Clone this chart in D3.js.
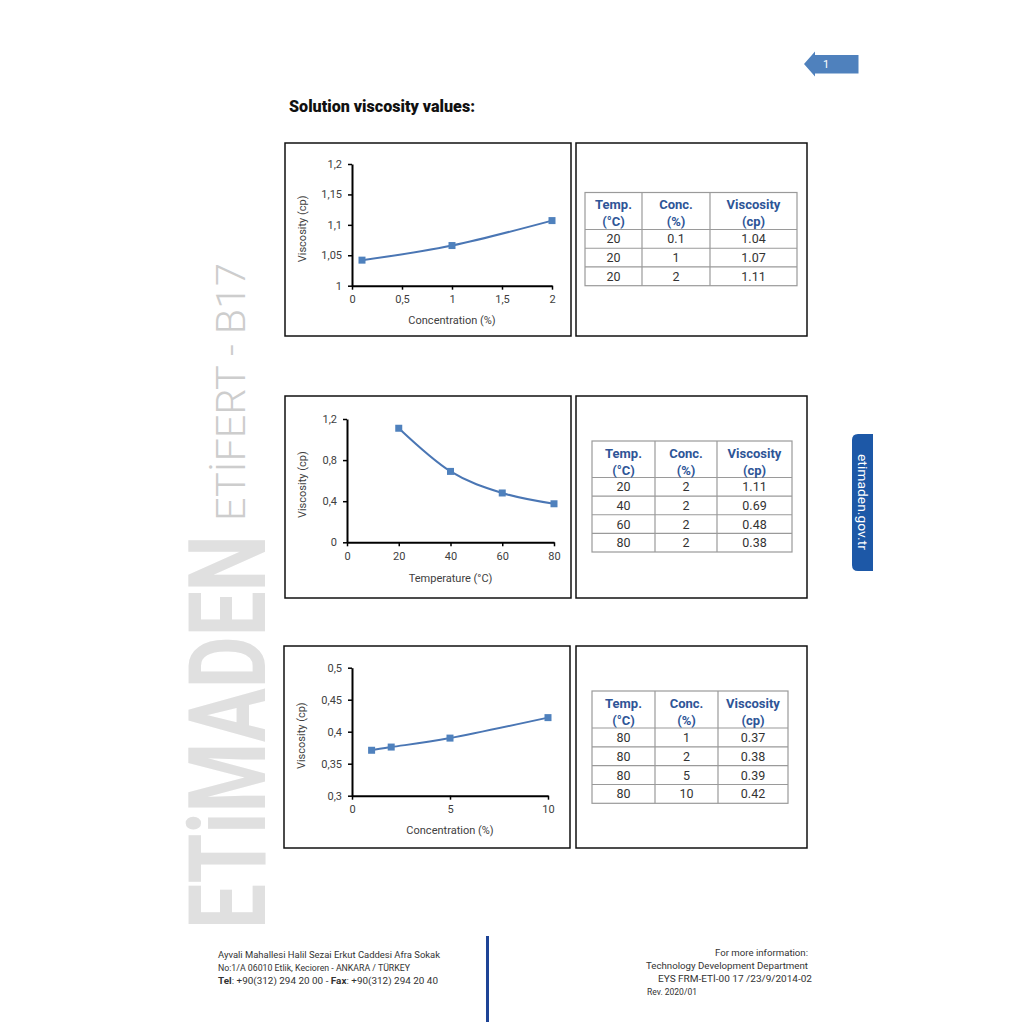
<!DOCTYPE html>
<html>
<head>
<meta charset="utf-8">
<script src="https://cdn.jsdelivr.net/npm/d3@7"></script>
<style>
  html, body { margin: 0; padding: 0; background: #fff; }
  svg { display: block; }
  text { font-family: Roboto, "Noto Sans", sans-serif; }
</style>
</head>
<body>
<svg id="page" width="1024" height="1024"></svg>
<script>
// ---------------- DATA ----------------
// Chart 1: viscosity vs concentration at 20 °C
const conc1 = [0.1, 1, 2];
const visc1 = [1.042, 1.066, 1.107];
const xTicks1 = [0, 0.5, 1, 1.5, 2];
const xLabels1 = ["0", "0,5", "1", "1,5", "2"];
const yTicks1 = [1, 1.05, 1.1, 1.15, 1.2];
const yLabels1 = ["1", "1,05", "1,1", "1,15", "1,2"];

// Chart 2: viscosity vs temperature at 2 %
const temp2 = [20, 40, 60, 80];
const visc2 = [1.11, 0.69, 0.48, 0.375];
const xTicks2 = [0, 20, 40, 60, 80];
const xLabels2 = ["0", "20", "40", "60", "80"];
const yTicks2 = [0, 0.4, 0.8, 1.2];
const yLabels2 = ["0", "0,4", "0,8", "1,2"];

// Chart 3: viscosity vs concentration at 80 °C
const conc3 = [1, 2, 5, 10];
const visc3 = [0.371, 0.376, 0.39, 0.422];
const xTicks3 = [0, 5, 10];
const xLabels3 = ["0", "5", "10"];
const yTicks3 = [0.3, 0.35, 0.4, 0.45, 0.5];
const yLabels3 = ["0,3", "0,35", "0,4", "0,45", "0,5"];

// Tables
const tableHeader = [["Temp.", "(°C)"], ["Conc.", "(%)"], ["Viscosity", "(cp)"]];
const table1Rows = [["20", "0.1", "1.04"], ["20", "1", "1.07"], ["20", "2", "1.11"]];
const table2Rows = [["20", "2", "1.11"], ["40", "2", "0.69"], ["60", "2", "0.48"], ["80", "2", "0.38"]];
const table3Rows = [["80", "1", "0.37"], ["80", "2", "0.38"], ["80", "5", "0.39"], ["80", "10", "0.42"]];

const yTitle = "Viscosity (cp)";
const xTitle1 = "Concentration (%)";
const xTitle2 = "Temperature (°C)";
const xTitle3 = "Concentration (%)";

// ---------------- DRAW ----------------
const svg = d3.select("#page");
const BLUE = "#4f81bd";

// Watermark
svg.append("text")
  .attr("transform", "translate(265,929) rotate(-90)")
  .attr("font-size", 108).attr("font-weight", 700)
  .attr("fill", "#e0e0e0")
  .attr("textLength", 394).attr("lengthAdjust", "spacingAndGlyphs")
  .text("ETiMADEN");
svg.append("text")
  .attr("transform", "translate(245,521) rotate(-90)")
  .attr("font-size", 40).attr("font-weight", 300)
  .attr("fill", "#cdcdcd")
  .attr("textLength", 258).attr("lengthAdjust", "spacingAndGlyphs")
  .text("ETİFERT - B17");

// Top page arrow
svg.append("polygon")
  .attr("points", "804,64 815,51.5 815,55 858.5,55 858.5,73.5 815,73.5 815,76.5")
  .attr("fill", BLUE);
svg.append("text")
  .attr("x", 826).attr("y", 68).attr("text-anchor", "middle")
  .attr("font-family", "'Liberation Serif', 'DejaVu Serif', serif")
  .attr("font-size", 11).attr("fill", "#fff").text("1");

// Title
svg.append("text")
  .attr("x", 289).attr("y", 112)
  .attr("font-size", 16).attr("font-weight", 900).attr("fill", "#111")
  .attr("textLength", 186).attr("lengthAdjust", "spacingAndGlyphs")
  .text("Solution viscosity values:");

// Panel boxes
const boxes = [
  [285, 143, 571, 336], [576, 143, 807, 336],
  [285, 396, 571, 598], [576, 396, 807, 598],
  [284, 646, 570, 848], [576, 646, 807, 848]
];
svg.selectAll("rect.box").data(boxes).enter().append("rect")
  .attr("class", "box")
  .attr("x", d => d[0]).attr("y", d => d[1])
  .attr("width", d => d[2] - d[0]).attr("height", d => d[3] - d[1])
  .attr("fill", "none").attr("stroke", "#111").attr("stroke-width", 1.5);

// Charts
function drawChart(cfg) {
  const x = d3.scaleLinear().domain(cfg.xDomain).range([cfg.x0, cfg.x1]);
  const y = d3.scaleLinear().domain(cfg.yDomain).range([cfg.yBot, cfg.yTop]);
  const g = svg.append("g");

  const xAxis = d3.axisBottom(x).tickValues(cfg.xTicks)
    .tickFormat((d, i) => cfg.xLabels[i]).tickSize(4).tickSizeOuter(0).tickPadding(6);
  const yAxis = d3.axisLeft(y).tickValues(cfg.yTicks)
    .tickFormat((d, i) => cfg.yLabels[i]).tickSize(4).tickSizeOuter(0).tickPadding(6);

  const gx = g.append("g").attr("transform", `translate(0,${cfg.yBot})`).call(xAxis);
  const gy = g.append("g").attr("transform", `translate(${cfg.x0},0)`).call(yAxis);
  [gx, gy].forEach(a => {
    a.select(".domain").attr("stroke", "#000").attr("stroke-width", 2);
    a.selectAll(".tick line").attr("stroke", "#000").attr("stroke-width", 1.5);
    a.selectAll(".tick text").attr("fill", "#404040").attr("font-size", 11)
      .attr("font-family", "Roboto, sans-serif");
  });

  const pts = cfg.xs.map((v, i) => [v, cfg.ys[i]]);
  const line = d3.line().x(d => x(d[0])).y(d => y(d[1])).curve(d3.curveCardinal.tension(0));
  g.append("path").attr("d", line(pts))
    .attr("fill", "none").attr("stroke", "#4a76b4").attr("stroke-width", 2);
  g.selectAll("rect.mk").data(pts).enter().append("rect")
    .attr("x", d => x(d[0]) - 3.5).attr("y", d => y(d[1]) - 3.5)
    .attr("width", 7).attr("height", 7).attr("fill", BLUE);

  g.append("text")
    .attr("transform", `translate(${cfg.yTitleX},${(cfg.yTop + cfg.yBot) / 2 + 4}) rotate(-90)`)
    .attr("text-anchor", "middle").attr("font-size", 11).attr("fill", "#404040")
    .text(yTitle);
  g.append("text")
    .attr("x", (cfg.x0 + cfg.x1) / 2).attr("y", cfg.xTitleY)
    .attr("text-anchor", "middle").attr("font-size", 11).attr("fill", "#404040")
    .text(cfg.xTitle);
}

drawChart({ xs: conc1, ys: visc1, xDomain: [0, 2], yDomain: [1, 1.2],
  xTicks: xTicks1, xLabels: xLabels1, yTicks: yTicks1, yLabels: yLabels1,
  x0: 352, x1: 552, yTop: 164, yBot: 285.7, yTitleX: 306, xTitleY: 324, xTitle: xTitle1 });
drawChart({ xs: temp2, ys: visc2, xDomain: [0, 80], yDomain: [0, 1.2],
  xTicks: xTicks2, xLabels: xLabels2, yTicks: yTicks2, yLabels: yLabels2,
  x0: 347, x1: 554, yTop: 419, yBot: 542.3, yTitleX: 306, xTitleY: 581.5, xTitle: xTitle2 });
drawChart({ xs: conc3, ys: visc3, xDomain: [0, 10], yDomain: [0.3, 0.5],
  xTicks: xTicks3, xLabels: xLabels3, yTicks: yTicks3, yLabels: yLabels3,
  x0: 352, x1: 548, yTop: 667.7, yBot: 795.7, yTitleX: 305, xTitleY: 834, xTitle: xTitle3 });

// Tables
function drawTable(cfg) {
  const g = svg.append("g");
  const cols = [cfg.left, cfg.c1, cfg.c2, cfg.right];
  const n = cfg.rows.length;
  const rowY = d3.scaleLinear().domain([0, n]).range([cfg.hb, cfg.bottom]);
  const stroke = "#9a9a9a";
  g.append("rect").attr("x", cfg.left).attr("y", cfg.top)
    .attr("width", cfg.right - cfg.left).attr("height", cfg.bottom - cfg.top)
    .attr("fill", "none").attr("stroke", stroke).attr("stroke-width", 1.2);
  [cfg.c1, cfg.c2].forEach(cx => g.append("line")
    .attr("x1", cx).attr("x2", cx).attr("y1", cfg.top).attr("y2", cfg.bottom)
    .attr("stroke", stroke).attr("stroke-width", 1.2));
  d3.range(0, n).forEach(i => g.append("line")
    .attr("x1", cfg.left).attr("x2", cfg.right).attr("y1", rowY(i)).attr("y2", rowY(i))
    .attr("stroke", stroke).attr("stroke-width", 1.2));
  tableHeader.forEach((h, j) => {
    const cx = (cols[j] + cols[j + 1]) / 2;
    h.forEach((t, k) => g.append("text")
      .attr("x", cx).attr("y", cfg.top + 16.5 + k * 17)
      .attr("text-anchor", "middle").attr("font-size", 13).attr("font-weight", 700)
      .attr("fill", "#2e5597").text(t));
  });
  cfg.rows.forEach((r, i) => {
    const cyy = (rowY(i) + rowY(i + 1)) / 2 + 4.5;
    r.forEach((t, j) => g.append("text")
      .attr("x", (cols[j] + cols[j + 1]) / 2).attr("y", cyy)
      .attr("text-anchor", "middle").attr("font-size", 12.5)
      .attr("fill", "#333").text(t));
  });
}
drawTable({ rows: table1Rows, left: 585, c1: 642, c2: 710, right: 797, top: 192.5, hb: 229.5, bottom: 285.7 });
drawTable({ rows: table2Rows, left: 592, c1: 655, c2: 717, right: 792, top: 441, hb: 477.5, bottom: 552 });
drawTable({ rows: table3Rows, left: 592, c1: 655, c2: 718, right: 788, top: 691, hb: 728, bottom: 803.3 });

// Side tab
svg.append("path")
  .attr("d", "M873,434 L873,571 L858,571 Q852,571 852,565 L852,440 Q852,434 858,434 Z")
  .attr("fill", "#1d58a7");
svg.append("text")
  .attr("transform", "translate(858,502) rotate(90)")
  .attr("text-anchor", "middle").attr("font-size", 12).attr("fill", "#fff")
  .attr("textLength", 96).attr("lengthAdjust", "spacingAndGlyphs")
  .text("etimaden.gov.tr");

// Footer
svg.append("rect").attr("x", 486).attr("y", 936).attr("width", 3).attr("height", 86).attr("fill", "#1e4496");
const fLeft = [
  { t: [["Ayvali Mahallesi Halil Sezai Erkut Caddesi Afra Sokak", 400]], y: 958, len: 222 },
  { t: [["No:1/A 06010 Etlik, Kecioren - ANKARA / TÜRKEY", 400]], y: 971, len: 192 },
  { t: [["Tel", 700], [": +90(312) 294 20 00 - ", 400], ["Fax", 700], [": +90(312) 294 20 40", 400]], y: 984, len: 220 }
];
fLeft.forEach(l => {
  const tx = svg.append("text").attr("x", 218).attr("y", l.y).attr("font-size", 9).attr("fill", "#333")
    .attr("textLength", l.len).attr("lengthAdjust", "spacingAndGlyphs");
  l.t.forEach(s => tx.append("tspan").attr("font-weight", s[1]).text(s[0]));
});
const fRight = [
  { t: "For more information:", x: 715, y: 956, len: 93 },
  { t: "Technology Development Department", x: 646, y: 969, len: 162 },
  { t: "EYS  FRM-ETİ-00 17 /23/9/2014-02", x: 658, y: 982, len: 154 },
  { t: "Rev. 2020/01", x: 647, y: 995, len: 50 }
];
fRight.forEach(l => svg.append("text").attr("x", l.x).attr("y", l.y)
  .attr("font-size", 9).attr("fill", "#333")
  .attr("textLength", l.len).attr("lengthAdjust", "spacingAndGlyphs").text(l.t));
</script>
</body>
</html>
